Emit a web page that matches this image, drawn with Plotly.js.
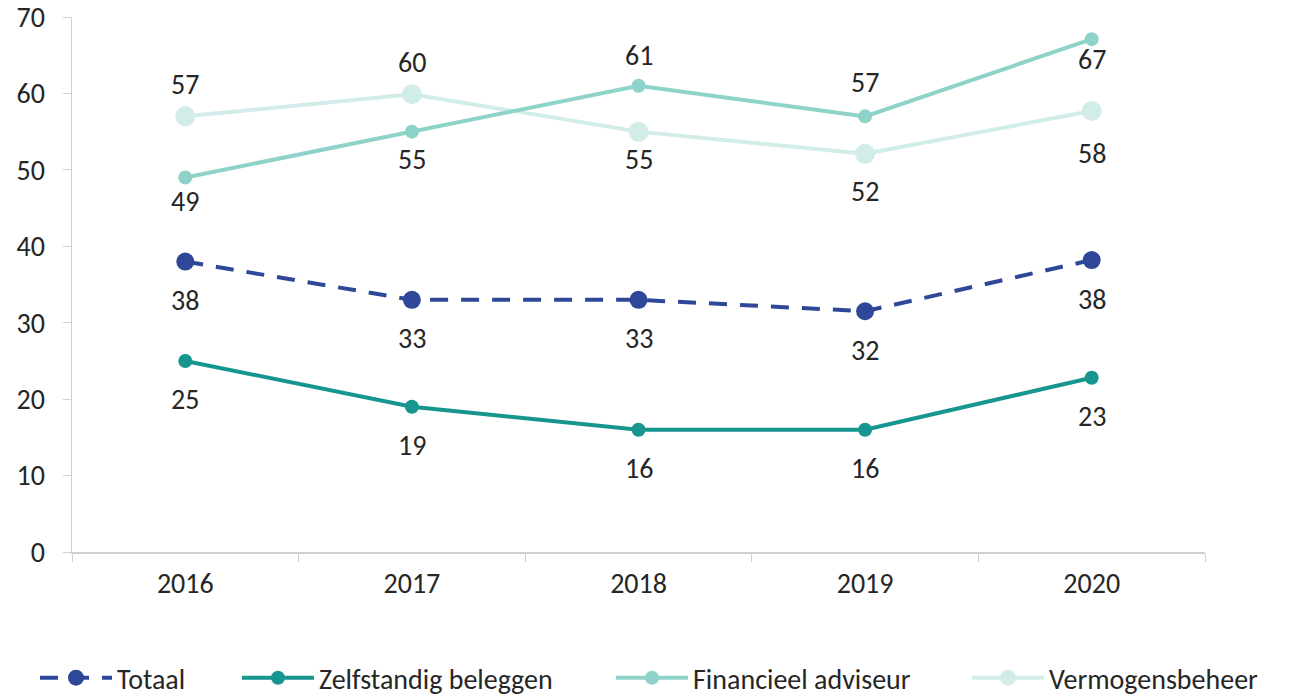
<!DOCTYPE html>
<html><head><meta charset="utf-8">
<script src="https://cdn.plot.ly/plotly-3.0.1.min.js"></script>
<style>html,body{margin:0;padding:0;background:#fff}#chart{width:1294px;height:698px}</style>
</head><body><div id="chart"></div>
<script>
const years = ['2016','2017','2018','2019','2020'];
const totaal = [38, 33, 33, 31.5, 38.2];
const zelfstandig = [25, 19, 16, 16, 22.8];
const financieel = [49, 55, 61, 57, 67.1];
const vermogens = [57, 59.9, 55, 52.1, 57.7];
const labTotaal = ['38','33','33','32','38'];
const labZelf = ['25','19','16','16','23'];
const labFin = ['49','55','61','57','67'];
const labVerm = ['57','60','55','52','58'];
const names = ['Totaal','Zelfstandig beleggen','Financieel adviseur','Vermogensbeheer'];

const FONT = "Carlito, Calibri, 'Liberation Sans', sans-serif";
const colors = ['#2f4799','#17968f','#8ed3c9','#d2ede9'];
const series = [totaal, zelfstandig, financieel, vermogens];
const labels = [labTotaal, labZelf, labFin, labVerm];
const msize = [18, 14, 14, 20];
const dashes = ['18px,13px','solid','solid','solid'];
// label offset (px, positive = above)
const shifts = [
  [-39,-39,-39,-39,-39],
  [-39,-39,-39,-39,-39],
  [-24,-28,30,34,-20],
  [32,32,-28,-38,-42]
];
const legendIds = ['legend','legend2','legend3','legend4'];
const legendX = [35, 237, 611, 967];

const traces = series.map((s,i)=>({
  type:'scatter', mode:'lines+markers', x:years, y:s, name:names[i],
  legend:legendIds[i],
  line:{color:colors[i], width:4, dash:dashes[i]},
  marker:{color:colors[i], size:msize[i]},
  hoverinfo:'none'
}));
const order = [3,2,1,0];
const ordered = order.map(i=>traces[i]);

const annotations = [];
series.forEach((s,i)=>{
  s.forEach((v,j)=>{
    annotations.push({xref:'x', yref:'y', x:j, y:v, text:labels[i][j], showarrow:false,
      yshift:shifts[i][j], font:{family:FONT,size:28,color:'#262626'}});
  });
});

const layout = {
  width:1294, height:698,
  margin:{l:72, r:89, t:17, b:146, autoexpand:false},
  paper_bgcolor:'#fff', plot_bgcolor:'#fff',
  font:{family:FONT, size:28, color:'#262626'},
  showlegend:true,
  xaxis:{type:'category', range:[-0.5,4.5], showgrid:false, showline:true,
    linecolor:'#d0d0d0', linewidth:1.5, ticks:'outside', tickson:'boundaries',
    ticklen:8, tickcolor:'#d0d0d0', tickfont:{family:FONT,size:28,color:'#262626'},
    zeroline:false, ticklabelstandoff:6, ticklabeloverflow:'allow'},
  yaxis:{range:[0,70], dtick:10, showgrid:false, showline:true,
    linecolor:'#d0d0d0', linewidth:1.5, ticks:'outside', ticklen:8,
    tickcolor:'#d0d0d0', tickfont:{family:FONT,size:28,color:'#262626'},
    zeroline:false, ticklabelstandoff:12, ticklabeloverflow:'allow'},
  annotations:annotations
};
legendIds.forEach((id,i)=>{
  layout[id] = {orientation:'h', xref:'container', yref:'container',
    x:legendX[i]/1294, xanchor:'left', y:(698-678)/698, yanchor:'middle',
    itemwidth:72, bgcolor:'rgba(0,0,0,0)',
    font:{family:FONT,size:28,color:'#262626'}};
});
Plotly.newPlot('chart', ordered, layout, {staticPlot:true});
</script></body></html>
